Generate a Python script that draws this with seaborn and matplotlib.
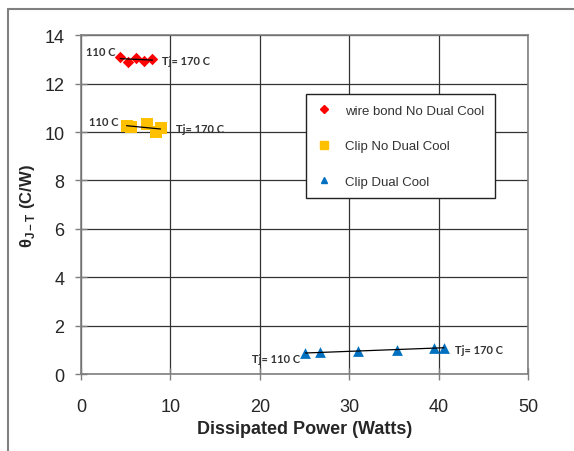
import numpy as np
import pandas as pd
import matplotlib
matplotlib.use('Agg')
import matplotlib.pyplot as plt
import seaborn as sns
from matplotlib.lines import Line2D

# data
wire_x = [4.4, 5.3, 6.2, 7.1, 8.0]
wire_y = [13.1, 12.9, 13.05, 12.95, 13.0]
clip_x = [5.1, 5.6, 7.4, 8.4, 8.9]
clip_y = [10.25, 10.2, 10.35, 10.0, 10.15]
dual_x = [25.1, 26.7, 31.0, 35.3, 39.5, 40.6]
dual_y = [0.88, 0.9, 0.95, 1.0, 1.08, 1.1]
series = ['wire bond No Dual Cool', 'Clip No Dual Cool', 'Clip Dual Cool']
colors = ['#FF0000', '#FFC000', '#0070C0']
markers = ['D', 's', '^']
sizes = [34, 70, 60]

df = pd.DataFrame({
    'power': wire_x + clip_x + dual_x,
    'theta': wire_y + clip_y + dual_y,
    'series': [series[0]] * len(wire_x) + [series[1]] * len(clip_x) + [series[2]] * len(dual_x),
})

sns.set_style('white')
plt.rcParams['font.family'] = ['Liberation Sans', 'DejaVu Sans']
plt.rcParams['mathtext.fontset'] = 'custom'
plt.rcParams['mathtext.rm'] = 'Liberation Sans'
plt.rcParams['mathtext.bf'] = 'Liberation Sans:bold'

fig = plt.figure(figsize=(5.74, 4.52), dpi=100)
ax = fig.add_axes([0.141, 0.170, 0.779, 0.750])

for name, c, m, s in zip(series, colors, markers, sizes):
    sub = df[df['series'] == name]
    sns.scatterplot(data=sub, x='power', y='theta', color=c, marker=m, s=s,
                    edgecolor=c, linewidth=0, ax=ax, label=name, zorder=3)
    # linear trend line over the series range
    k, b = np.polyfit(sub['power'], sub['theta'], 1)
    xs = np.array([sub['power'].min(), sub['power'].max()])
    ax.plot(xs, k * xs + b, color='black', lw=0.9, zorder=4)

ax.set_xlim(0, 50)
ax.set_ylim(0, 14)
ax.set_xticks(range(0, 51, 10))
ax.set_yticks(range(0, 15, 2))
ax.grid(True, color='#333333', lw=0.9)
ax.set_axisbelow(True)
for sp in ax.spines.values():
    sp.set_color('#7f7f7f')
    sp.set_linewidth(1.2)
ax.tick_params(axis='both', direction='inout', length=8, width=1, color='#7f7f7f',
               labelsize=13, bottom=True, left=True)
ax.tick_params(axis='y', pad=8)
ax.tick_params(axis='x', pad=13)

ax.set_xlabel('Dissipated Power (Watts)', fontsize=13, fontweight='bold', labelpad=4)
ax.set_ylabel(r'θ$_{\mathbf{J-T}}$ (C/W)', fontsize=12, fontweight='bold', labelpad=5)

ann = dict(fontsize=8, color='#333333', family=['Lato', 'DejaVu Sans'], fontweight='bold')
ax.text(0.6, 13.2, '110 C', **ann)
ax.text(9.1, 12.95, 'Tj= 170 C', va='center', **ann)
ax.text(0.9, 10.3, '110 C', **ann)
ax.text(10.6, 10.15, 'Tj= 170 C', va='center', **ann)
ax.text(24.5, 0.65, 'Tj= 110 C', ha='right', va='center', **ann)
ax.text(41.8, 1.0, 'Tj= 170 C', va='center', **ann)

handles = [Line2D([], [], ls='none', marker=m, color=c, markersize=ms)
           for c, m, ms in zip(colors, markers, [4, 5.5, 5])]
leg = ax.legend(handles, series, loc='upper left', bbox_to_anchor=(0.503, 0.826),
                fontsize=9.5, labelspacing=1.75, handlelength=1.2, handletextpad=1.0,
                borderpad=0.8, fancybox=False, framealpha=1, edgecolor='#222222',
                borderaxespad=0)
leg.get_frame().set_linewidth(1.0)
for t in leg.get_texts():
    t.set_color('#333333')

# outer frame of the original picture
fig.add_artist(Line2D([8 / 574, 1], [1 - 10 / 452, 1 - 10 / 452], color='#808080', lw=1.5,
                      transform=fig.transFigure))
fig.add_artist(Line2D([8 / 574, 8 / 574], [0, 1 - 10 / 452], color='#808080', lw=1.5,
                      transform=fig.transFigure))

fig.savefig('out.png', dpi=100)
plt.close('all')
